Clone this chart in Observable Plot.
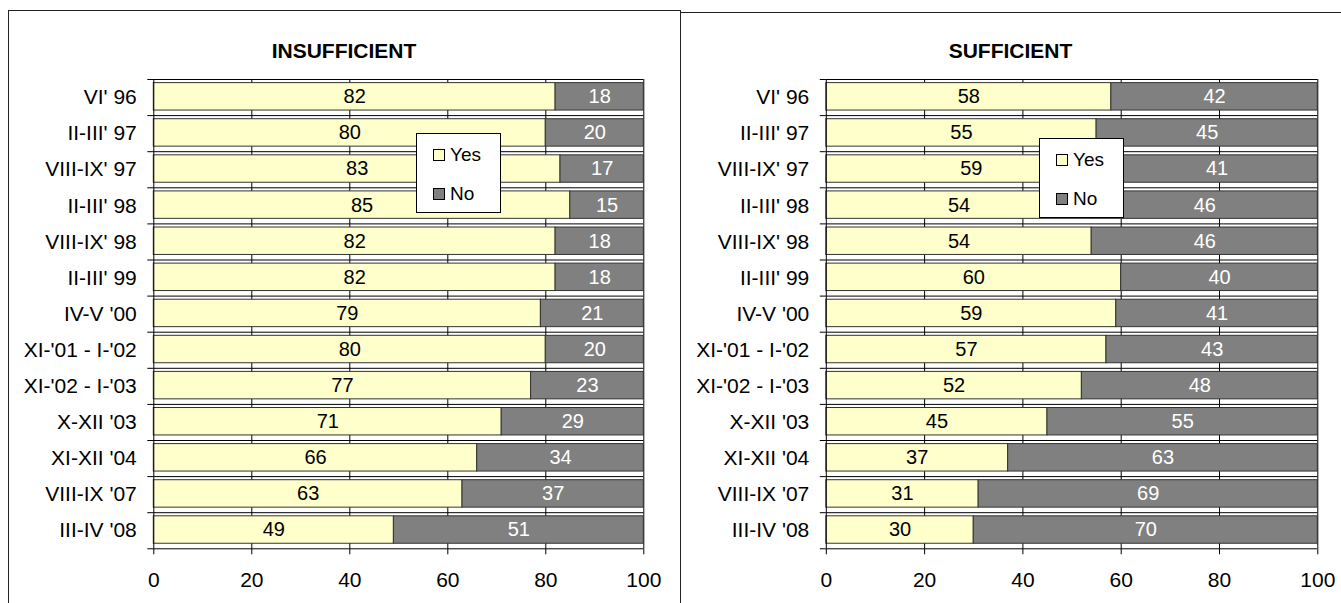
<!DOCTYPE html>
<html><head><meta charset="utf-8">
<script src="https://cdn.jsdelivr.net/npm/d3@7"></script>
<script src="https://cdn.jsdelivr.net/npm/@observablehq/plot@0.6"></script>
<style>
html,body{margin:0;padding:0;background:#fff;width:1341px;height:603px;overflow:hidden;font-family:"Liberation Sans",Arial,sans-serif;}
#root{position:relative;width:1341px;height:603px;}
.panel{position:absolute;box-sizing:border-box;}
.title{position:absolute;font-weight:bold;font-size:21px;line-height:24px;text-align:center;color:#000;}
.chart{position:absolute;}
.legend{position:absolute;box-sizing:border-box;width:85px;height:80px;border:1px solid #000;background:#fff;}
.sw{position:absolute;box-sizing:border-box;width:12px;height:12px;border:1px solid #000;left:16px;}
.lt{position:absolute;left:33px;font-size:19px;line-height:20px;color:#000;}
</style></head><body>
<div id="root"></div>
<script>
const categories = ["VI' 96", "II-III' 97", "VIII-IX' 97", "II-III' 98", "VIII-IX' 98", "II-III' 99", "IV-V '00", "XI-'01 - I-'02", "XI-'02 - I-'03", "X-XII '03", "XI-XII '04", "VIII-IX '07", "III-IV '08"];
const insufficientYes = [82, 80, 83, 85, 82, 82, 79, 80, 77, 71, 66, 63, 49];
const insufficientNo  = [18, 20, 17, 15, 18, 18, 21, 20, 23, 29, 34, 37, 51];
const sufficientYes = [58, 55, 59, 54, 54, 60, 59, 57, 52, 45, 37, 31, 30];
const sufficientNo  = [42, 45, 41, 46, 46, 40, 41, 43, 48, 55, 63, 69, 70];
const xTicks = [0, 20, 40, 60, 80, 100];
const seriesNames = ["Yes", "No"];
const colors = {Yes: "#FFFFCC", No: "#808080"};

const root = document.getElementById("root");

function makePanel(cfg) {
  const p = document.createElement("div");
  p.className = "panel";
  Object.assign(p.style, cfg.panelStyle);
  root.appendChild(p);

  const t = document.createElement("div");
  t.className = "title";
  t.textContent = cfg.title;
  Object.assign(t.style, {left: cfg.titleLeft + "px", width: cfg.titleWidth + "px", top: "39px"});
  root.appendChild(t);

  const rows = categories.map((c, i) => ({i, cat: c, yes: cfg.yes[i], no: cfg.no[i]}));
  const boundaries = d3.range(0, categories.length + 1);
  const centers = categories.map((c, i) => i + 0.5);
  const n = categories.length;

  const chart = Plot.plot({
    width: cfg.width,
    height: 543,
    marginLeft: cfg.marginLeft,
    marginRight: cfg.marginRight,
    marginTop: 19,
    marginBottom: 54.7,
    style: {background: "transparent", fontFamily: "'Liberation Sans', Arial, sans-serif", fontSize: "21px", color: "#000", overflow: "visible"},
    x: {domain: [0, 100]},
    y: {domain: [0, n], reverse: true},
    marks: [
      Plot.ruleX(xTicks.slice(1), {y1: 0, y2: n, stroke: "#000", strokeWidth: 1}),
      Plot.ruleY(boundaries, {x1: 0, x2: 100, stroke: "#000", strokeWidth: 1}),
      Plot.rectX(rows, {x1: 0, x2: "yes", y1: d => d.i + 0.1, y2: d => d.i + 0.86, fill: colors.Yes, stroke: "#333", strokeWidth: 1}),
      Plot.rectX(rows, {x1: "yes", x2: d => d.yes + d.no, y1: d => d.i + 0.1, y2: d => d.i + 0.86, fill: colors.No, stroke: "#333", strokeWidth: 1}),
      Plot.ruleX([0], {y1: 0, y2: n, stroke: "#000", strokeWidth: 1}),
      Plot.text(rows, {x: d => d.yes / 2, y: d => d.i + 0.48, text: "yes", fill: "#000", fontSize: 20}),
      Plot.text(rows, {x: d => d.yes + d.no / 2, y: d => d.i + 0.48, text: "no", fill: "#fff", fontSize: 20}),
      Plot.axisX({ticks: xTicks, tickSize: 6, tickPadding: 17, fontSize: 21, label: null, tickFormat: d => String(d)}),
      Plot.axisY({ticks: boundaries, tickSize: 6, tickFormat: () => "", label: null}),
      Plot.axisY({ticks: centers, tickSize: 0, tickPadding: 17, fontSize: 21, label: null, tickFormat: d => categories[Math.floor(d)]})
    ]
  });
  chart.classList.add("chart");
  chart.style.left = cfg.left + "px";
  chart.style.top = "60px";
  chart.style.position = "absolute";
  root.appendChild(chart);

  const lg = document.createElement("div");
  lg.className = "legend";
  lg.style.left = cfg.legendLeft + "px";
  lg.style.top = cfg.legendTop + "px";
  seriesNames.forEach((name, k) => {
    const sw = document.createElement("div");
    sw.className = "sw";
    sw.style.top = (15 + k * 39) + "px";
    sw.style.background = colors[name];
    lg.appendChild(sw);
    const tx = document.createElement("div");
    tx.className = "lt";
    tx.style.top = (11 + k * 39) + "px";
    tx.textContent = name;
    lg.appendChild(tx);
  });
  root.appendChild(lg);
}

makePanel({
  title: "INSUFFICIENT", yes: insufficientYes, no: insufficientNo,
  panelStyle: {left: "8px", top: "10px", width: "673px", height: "700px", border: "1px solid #222"},
  titleLeft: 8, titleWidth: 672,
  left: 0, width: 680, marginLeft: 153.3, marginRight: 36.7,
  legendLeft: 416, legendTop: 133
});
makePanel({
  title: "SUFFICIENT", yes: sufficientYes, no: sufficientNo,
  panelStyle: {left: "680px", top: "12px", width: "670px", height: "700px", borderTop: "1px solid #222"},
  titleLeft: 680, titleWidth: 661,
  left: 680, width: 661, marginLeft: 145.8, marginRight: 23.7,
  legendLeft: 1039, legendTop: 138
});
</script>
</body></html>
